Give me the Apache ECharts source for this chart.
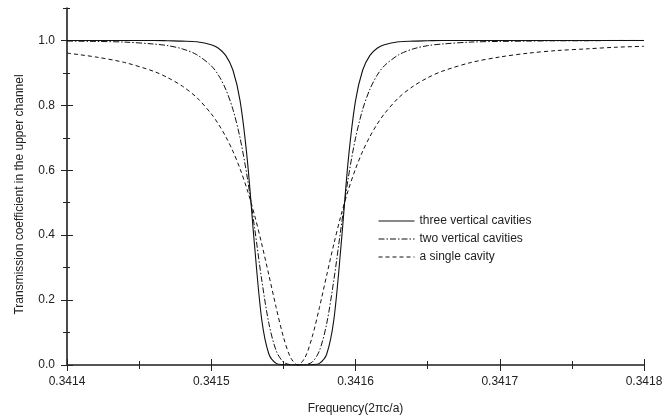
<!DOCTYPE html>
<html>
<head>
<meta charset="utf-8">
<script src="https://cdn.jsdelivr.net/npm/echarts@6/dist/echarts.min.js"></script>
<style>
html,body{margin:0;padding:0;background:#fff;}
#chart{width:666px;height:420px;}
</style>
</head>
<body>
<div id="chart"></div>
<script>
// Frequency samples (2πc/a)
var freq = [0.34140,0.34142,0.34144,0.34146,0.34147,0.34148,0.34149,0.34150,0.341505,0.34151,0.341515,0.34152,0.341525,0.34153,0.341535,0.34154,0.341545,0.34155,0.341555,0.34156,0.341565,0.34157,0.341575,0.34158,0.341585,0.34159,0.341595,0.34160,0.341605,0.34161,0.341615,0.34162,0.34163,0.34164,0.34165,0.34166,0.34168,0.34170,0.34172,0.34174,0.34176,0.34178,0.34180];
// Transmission values
var threeCavities = [1.000,1.000,1.000,1.000,0.999,0.998,0.996,0.987,0.976,0.954,0.909,0.814,0.632,0.369,0.140,0.033,0.005,0.001,0.000,0.000,0.000,0.001,0.005,0.033,0.140,0.369,0.632,0.814,0.909,0.954,0.976,0.987,0.996,0.998,0.999,1.000,1.000,1.000,1.000,1.000,1.000,1.000,1.000];
var twoCavities = [0.998,0.997,0.995,0.989,0.984,0.974,0.956,0.922,0.893,0.850,0.788,0.699,0.577,0.424,0.262,0.127,0.044,0.009,0.001,0.000,0.001,0.009,0.044,0.127,0.262,0.424,0.577,0.699,0.788,0.850,0.893,0.922,0.956,0.974,0.984,0.989,0.995,0.997,0.998,0.999,0.999,1.000,1.000];
var singleCavity = [0.961,0.949,0.932,0.905,0.885,0.859,0.824,0.774,0.742,0.704,0.659,0.604,0.539,0.462,0.373,0.276,0.177,0.087,0.023,0.000,0.023,0.087,0.177,0.276,0.373,0.462,0.539,0.604,0.659,0.704,0.742,0.774,0.824,0.859,0.885,0.905,0.932,0.949,0.961,0.969,0.974,0.979,0.982];
var seriesNames = ['three vertical cavities','two vertical cavities','a single cavity'];
var xMajorTicks = [0.3414,0.3415,0.3416,0.3417,0.3418];
var xMinorTicks = [0.34145,0.34155,0.34165,0.34175];
var yMajorTicks = [0,0.2,0.4,0.6,0.8,1.0];
var yMinorTicks = [0.1,0.3,0.5,0.7,0.9,1.1];
var xTitle = 'Frequency(2\u03c0c/a)';
var yTitle = 'Transmission coefficient in the upper channel';

var FONT = '"Liberation Sans", Arial, Helvetica, sans-serif';

function pairs(ys){ return freq.map(function(f,i){ return [f, ys[i]]; }); }

function makeAxis(kind, ticks, len, inside, main){
  var isX = kind === 'x';
  var ax = {
    type:'value',
    min: isX ? 0.3414 : 0,
    max: isX ? 0.3418 : 1.1,
    interval: isX ? 0.0001 : 0.1,
    position: isX ? 'bottom' : 'left',
    splitLine:{show:false},
    axisLine:{show: !!main, onZero:false, lineStyle: isX ? {color:'#555', width:2} : {color:'#111', width:1.5}},
    axisTick:{show:true, inside:inside, length:len, customValues:ticks, lineStyle:{color:'#222', width:1}},
    axisLabel:{show: !!main}
  };
  if (main){
    ax.axisLabel = {
      show:true, customValues:ticks, color:'#222', fontSize:12, fontFamily:FONT,
      margin: isX ? 11 : 12,
      formatter: function(v){ return isX ? Number(v).toFixed(4) : Number(v).toFixed(1); }
    };
    ax.name = isX ? xTitle : yTitle;
    ax.nameLocation = 'middle';
    ax.nameGap = isX ? 38 : 41;
    ax.nameTextStyle = {color:'#222', fontSize:12, fontFamily:FONT, padding: isX ? 0 : [0,16,0,0]};
  }
  return ax;
}

var chart = echarts.init(document.getElementById('chart'), null, {renderer:'canvas'});
var lineColor = '#111';
chart.setOption({
  animation:false,
  backgroundColor:'#fff',
  grid:{left:67, right:22, top:8, bottom:53, containLabel:false},
  xAxis:[
    makeAxis('x', xMajorTicks, 6, false, true),
    makeAxis('x', xMajorTicks, 6, true, false),
    makeAxis('x', xMinorTicks, 4, false, false),
    makeAxis('x', xMinorTicks, 4, true, false)
  ],
  yAxis:[
    makeAxis('y', yMajorTicks, 6, false, true),
    makeAxis('y', yMajorTicks, 6, true, false),
    makeAxis('y', yMinorTicks, 4, false, false),
    makeAxis('y', yMinorTicks, 3, true, false)
  ],
  legend:{
    orient:'vertical', left:378, top:215, padding:0, itemGap:6,
    itemWidth:36, itemHeight:14,
    itemStyle:{opacity:0},
    lineStyle:{width:1},
    textStyle:{color:'#222', fontSize:12, fontFamily:FONT},
    data:seriesNames
  },
  series:[
    {name:seriesNames[0], type:'line', data:pairs(threeCavities), showSymbol:false, symbol:'none', smooth:0.3,
     lineStyle:{color:lineColor, width:1.1, type:'solid'}, itemStyle:{color:lineColor}},
    {name:seriesNames[1], type:'line', data:pairs(twoCavities), showSymbol:false, symbol:'none', smooth:0.3,
     lineStyle:{color:lineColor, width:1, type:[6,2,1.5,2]}, itemStyle:{color:lineColor}},
    {name:seriesNames[2], type:'line', data:pairs(singleCavity), showSymbol:false, symbol:'none', smooth:0.3,
     lineStyle:{color:lineColor, width:1, type:[4,3]}, itemStyle:{color:lineColor}}
  ]
});
</script>
</body>
</html>
